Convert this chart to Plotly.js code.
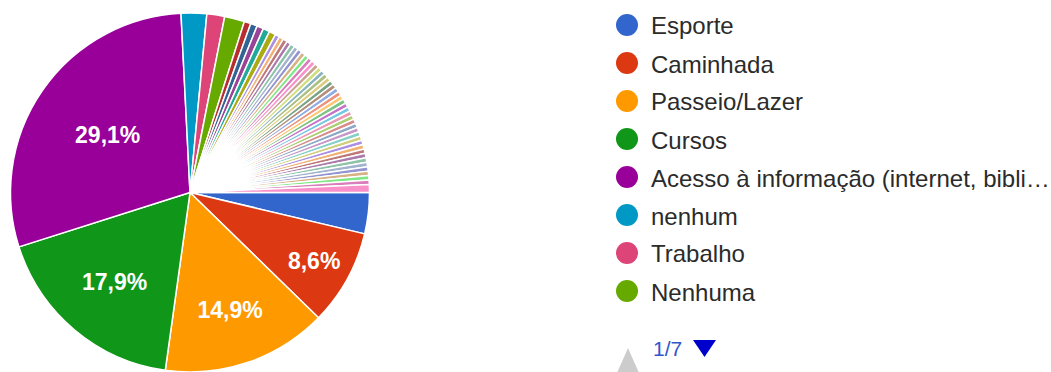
<!DOCTYPE html>
<html>
<head>
<meta charset="utf-8">
<script src="https://cdn.plot.ly/plotly-3.0.1.min.js"></script>
<style>html,body{margin:0;padding:0;background:#fff;}#chart{width:1051px;height:372px;}</style>
</head>
<body>
<div id="chart"></div>
<script>
// ---- Data (percent of answers) ----
const mainLabels = ["Esporte", "Caminhada", "Passeio/Lazer", "Cursos",
  "Acesso à informação (internet, bibli…", "nenhum", "Trabalho", "Nenhuma"];
const mainValues = [3.7, 8.6, 14.9, 17.9, 29.1, 2.3, 1.6, 1.8];
// many small free-text answers (unnamed in the visible legend page)
const smallValues = [0.6, 0.6, 0.6, 0.6, 0.6,
  0.4, 0.4, 0.4, 0.4, 0.4, 0.4, 0.4, 0.4, 0.4, 0.4,
  0.4, 0.4, 0.4, 0.4, 0.4, 0.4, 0.4, 0.4, 0.4, 0.4,
  0.4, 0.4, 0.4, 0.4, 0.4, 0.4, 0.4, 0.4, 0.4, 0.4,
  0.4, 0.4, 0.4, 0.4, 0.4, 0.4, 0.4, 0.4, 0.4, 0.4,
  0.4, 0.7];
const legendPage = "1/7";
const labelMinPercent = 5; // slices smaller than this carry no label

// ---- Styles ----
const palette = ['#3366cc','#dc3912','#ff9900','#109618','#990099','#0099c6','#dd4477','#66aa00',
  '#b82e2e','#316395','#994499','#22aa99','#aaaa11','#6633cc','#e67300','#8b0707','#651067',
  '#329262','#5574a6','#3b3eac','#b77322','#16d620','#b91383','#f4359e','#9c5935','#a9c413',
  '#2a778d','#668d1c','#bea413','#0c5922','#743411'];
function lighten(hex, f) {
  const n = parseInt(hex.slice(1), 16);
  const c = [(n >> 16) & 255, (n >> 8) & 255, n & 255].map(v => Math.round(v + (255 - v) * f));
  return 'rgb(' + c.join(',') + ')';
}

const labels = mainLabels.concat(smallValues.map((v, i) => "Outra resposta " + (i + 1)));
const values = mainValues.concat(smallValues);
const total = values.reduce((a, b) => a + b, 0);
const colors = labels.map((l, i) => i < 13 ? palette[i % palette.length] : lighten(palette[i % palette.length], 0.45));
const templates = values.map(v => (v / total * 100 >= labelMinPercent) ? '%{percent:.1%}' : '');

const W = 1051, H = 372;
const px = x => x / W;
const py = y => 1 - y / H;

const trace = {
  type: 'pie',
  labels: labels,
  values: values,
  sort: false,
  direction: 'clockwise',
  rotation: 90,
  marker: {colors: colors, line: {color: '#ffffff', width: 1.5}},
  texttemplate: templates,
  textinfo: 'none',
  textposition: 'inside',
  insidetextorientation: 'horizontal',
  textfont: {family: 'Arial, Liberation Sans, sans-serif', size: 23, color: '#ffffff', weight: 'bold'},
  hoverinfo: 'label+percent',
  domain: {x: [px(10), px(370)], y: [0, py(13)]},
  showlegend: false
};

const annotations = [];
const shapes = [];
const rowTop = 25, rowStep = 38;
mainLabels.forEach((lab, i) => {
  const yc = rowTop + i * rowStep;
  shapes.push({type: 'circle', xref: 'paper', yref: 'paper',
    x0: px(616), x1: px(638), y0: py(yc - 11), y1: py(yc + 11),
    fillcolor: colors[i], line: {width: 0}});
  annotations.push({xref: 'paper', yref: 'paper', x: px(649), y: py(yc + 1),
    xanchor: 'left', yanchor: 'middle', showarrow: false, text: lab,
    font: {family: 'Arial, Liberation Sans, sans-serif', size: 24, color: '#2b2b2b'}});
});
// pager
shapes.push({type: 'path', xref: 'paper', yref: 'paper',
  path: `M ${px(617)} ${py(373)} L ${px(639)} ${py(373)} L ${px(628)} ${py(348)} Z`,
  fillcolor: '#cccccc', line: {width: 0}});
shapes.push({type: 'path', xref: 'paper', yref: 'paper',
  path: `M ${px(693)} ${py(340)} L ${px(716)} ${py(340)} L ${px(704.5)} ${py(357)} Z`,
  fillcolor: '#0000cc', line: {width: 0}});
annotations.push({xref: 'paper', yref: 'paper', x: px(651), y: py(348),
  xanchor: 'left', yanchor: 'middle', showarrow: false, text: legendPage,
  font: {family: 'Arial, Liberation Sans, sans-serif', size: 21, color: '#3355cc'}});

const layout = {
  width: W, height: H,
  margin: {l: 0, r: 0, t: 0, b: 0},
  paper_bgcolor: '#ffffff',
  separators: ',.',
  showlegend: false,
  annotations: annotations,
  shapes: shapes
};

Plotly.newPlot('chart', [trace], layout, {displayModeBar: false, staticPlot: true});
</script>
</body>
</html>
